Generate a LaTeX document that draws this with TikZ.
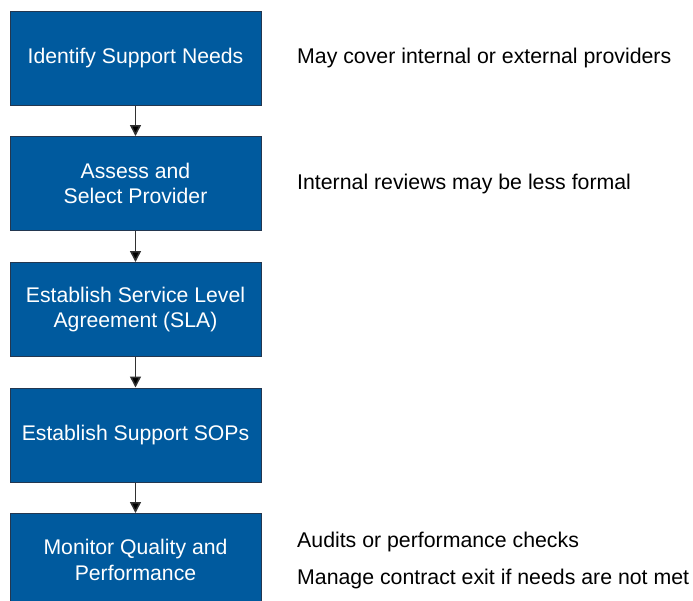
\documentclass[tikz,border=0pt]{standalone}
\usepackage{fontspec}
\setmainfont{Liberation Sans}
\usetikzlibrary{arrows.meta}
\definecolor{boxblue}{RGB}{0,90,158}
\definecolor{boxedge}{RGB}{35,55,80}
\definecolor{arrowgray}{RGB}{50,50,50}
\begin{document}
\begin{tikzpicture}[x=1pt,y=-1pt,
  stepbox/.style={draw=boxedge,line width=1pt,fill=boxblue,text=white,
    minimum width=251pt,minimum height=94pt,align=center,inner sep=0pt,
    font=\fontsize{21.2}{25.5}\selectfont},
  boxtext/.style={text=white,align=center,inner sep=0pt,
    font=\fontsize{21.2}{25.5}\selectfont},
  note/.style={anchor=west,inner sep=0pt,font=\fontsize{21.3}{25.5}\selectfont},
  flow/.style={draw=arrowgray,line width=1.5pt,-{Triangle[length=11pt,width=11pt,fill=black]}}]
\useasboundingbox (0,0) rectangle (693,600);
\clip (0,0) rectangle (693,600);
\fill[white] (0,0) rectangle (693,600);
\node[stepbox] (s1) at (135.5,58) {Identify Support Needs};
\node[stepbox] (s2) at (135.5,183.5) {Assess and\\Select Provider};
\node[stepbox] (s3) at (135.5,309.5) {Establish Service Level\\Agreement (SLA)};
\node[stepbox] (s4) at (135.5,435) {Establish Support SOPs};
\node[stepbox,minimum height=120pt,anchor=north] (s5) at (135.5,513) {};
\node[boxtext] (s5t) at (135.5,560) {Monitor Quality and\\Performance};
\draw[flow] (s1) -- (s2);
\draw[flow] (s2) -- (s3);
\draw[flow] (s3) -- (s4);
\draw[flow] (s4) -- (s5);
\node[note] (n1) at (297,58) {May cover internal or external providers};
\node[note] (n2) at (297,184) {Internal reviews may be less formal};
\node[note] (n3) at (297,542) {Audits or performance checks};
\node[note] (n4) at (297,579) {Manage contract exit if needs are not met};
\end{tikzpicture}
\end{document}
